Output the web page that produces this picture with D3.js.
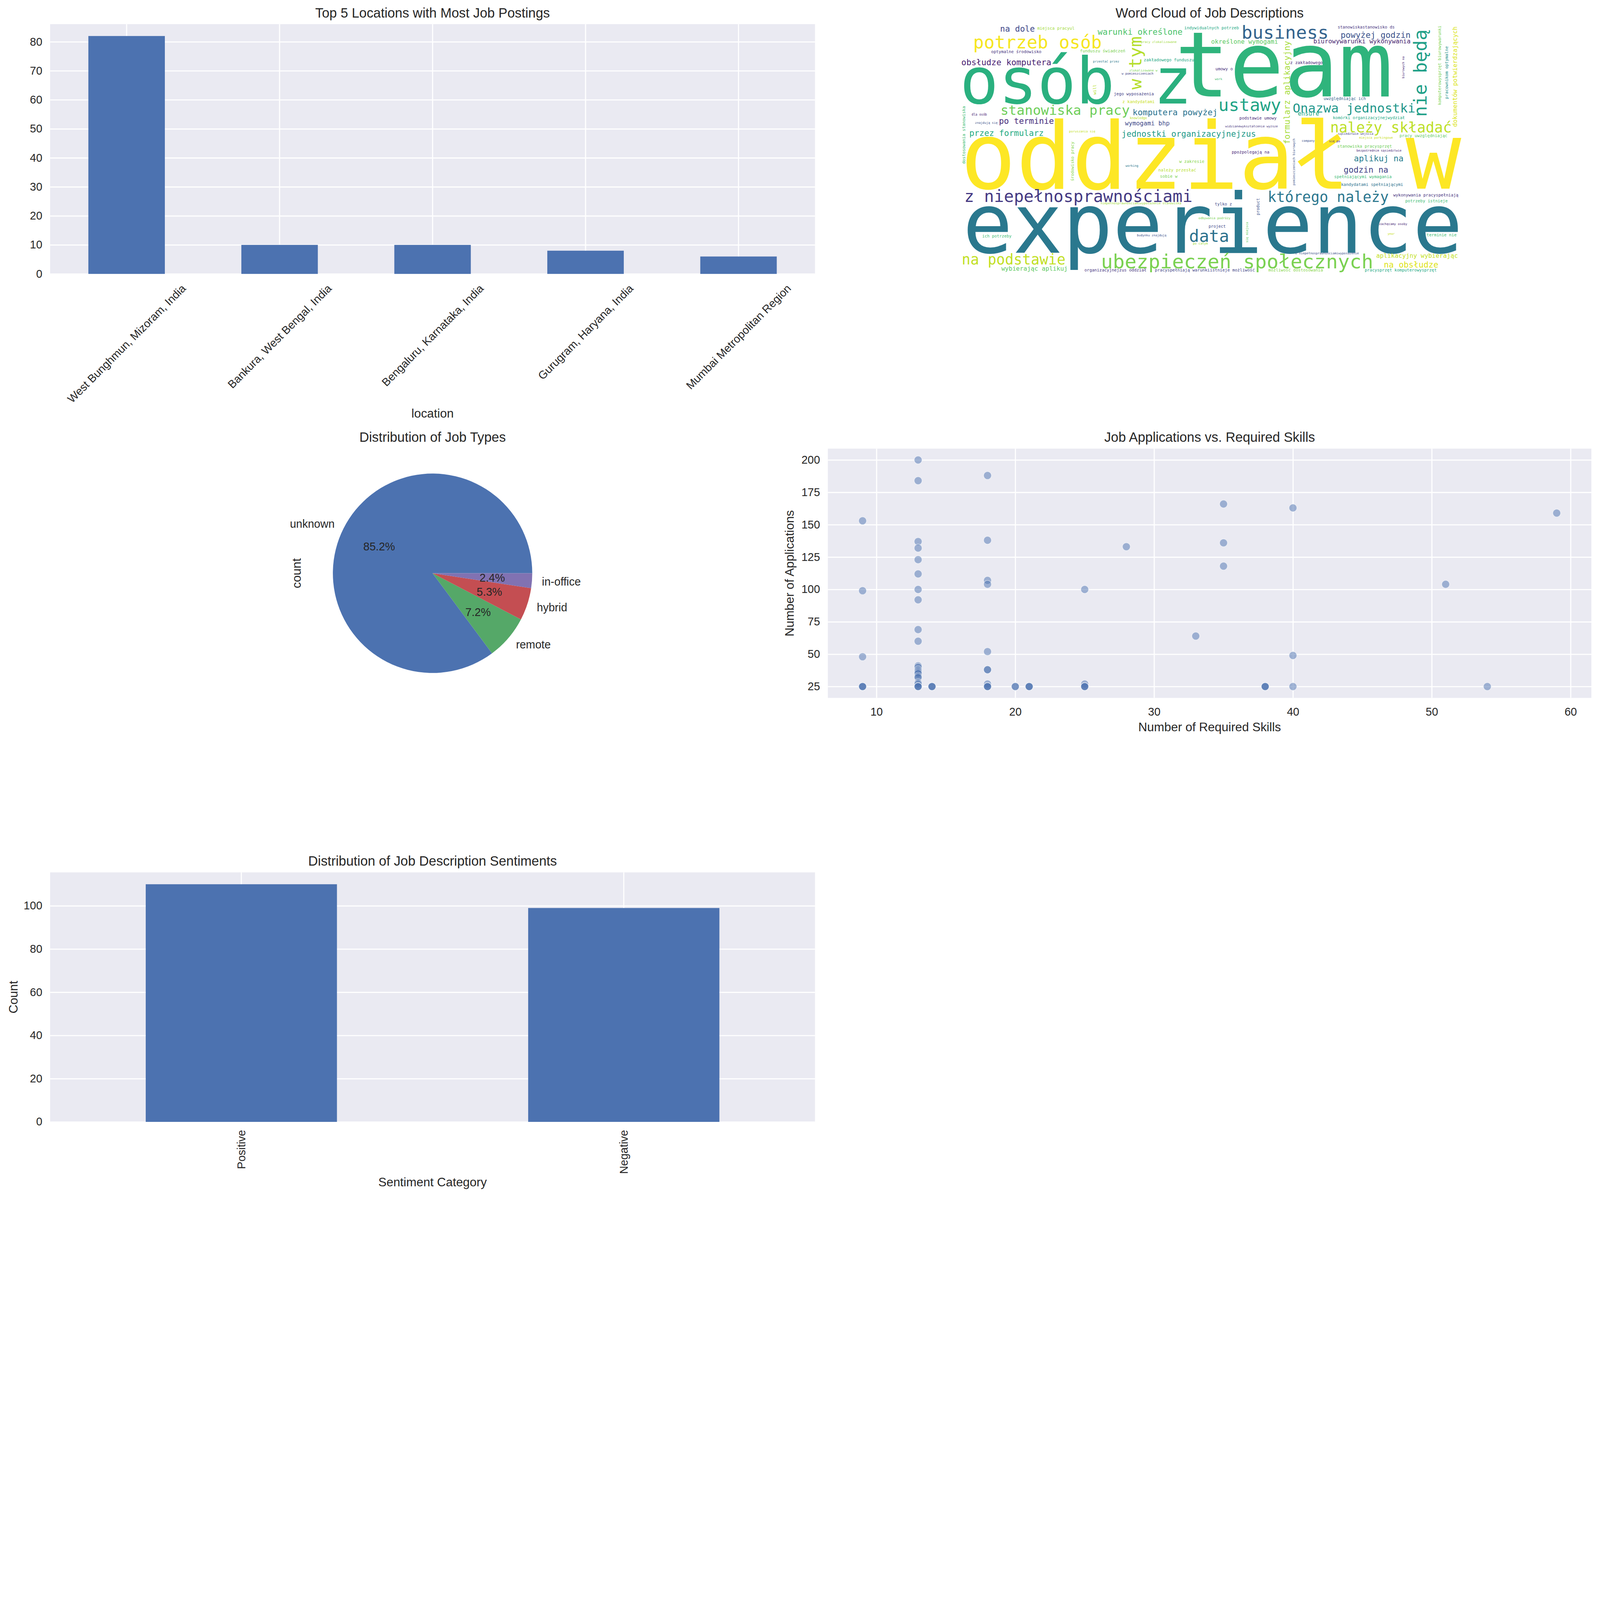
<!DOCTYPE html>
<html><head><meta charset="utf-8">
<script src="https://cdn.jsdelivr.net/npm/d3@7"></script>
<style>html,body{margin:0;padding:0;background:#fff;overflow:hidden}#c{display:block;width:100vw;height:auto}</style>
</head><body><svg id="c" viewBox="0 0 5970 4471" preserveAspectRatio="xMidYMid meet"></svg>
<script>
// ---------------- DATA ----------------
const locations = ["West Bunghmun, Mizoram, India","Bankura, West Bengal, India","Bengaluru, Karnataka, India","Gurugram, Haryana, India","Mumbai Metropolitan Region"];
const locationCounts = [82,10,10,8,6];
const locationTicks = [0,10,20,30,40,50,60,70,80];

const jobTypes = ["unknown","remote","hybrid","in-office"];
const jobTypeCounts = [178,15,11,5];
const jobTypeColors = ["#4C72B0","#55A868","#C44E52","#8172B2"];

const requiredSkills = [13,13,18,35,40,59,9,13,18,13,28,35,13,35,13,18,18,51,9,13,25,13,13,13,33,18,9,40,
  13,13,13,13,13,13,13,13,13,13,13,13,13,
  9,9,9,14,14,14,18,18,18,18,18,18,20,20,21,21,21,25,25,25,25,38,38,38,40,54];
const applications = [200,184,188,166,163,159,153,137,138,132,133,136,123,118,112,107,104,104,99,100,100,92,69,60,64,52,48,49,
  41,40,38,37,36,35,33,32,28,27,25,25,25,
  25,25,25,25,25,25,38,38,27,25,25,25,25,25,25,25,25,27,25,25,25,25,25,25,25,25];
const skillTicks = [10,20,30,40,50,60];
const applicationTicks = [25,50,75,100,125,150,175,200];

const sentiments = ["Positive","Negative"];
const sentimentCounts = [110,99];
const sentimentTicks = [0,20,40,60,80,100];

// word cloud: [word, font size in cloud px]
const cloudWords = [
 ["oddział w",148],["experience",133],["team",145],["osób z",103],["potrzeb osób",28.5],["business",29],
 ["ubezpieczeń społecznych",31.5],["należy składać",23.1],["którego należy",23],["z niepełnosprawnościami",26.4],
 ["na podstawie",23],["stanowiska pracy",21.5],["Onazwa jednostki",20.4],["ustawy",27.8],["data",26.7],
 ["nie będą",29.1],["w tym",28.3],["formularz aplikacyjny",13.1],["warunki określone",13.3],["obsłudze komputera",13.3],
 ["na dole",13.2],["po terminie",13.3],["przez formularz",13.2],["komputera powyżej",13.3],["jednostki organizacyjnejzus",13.25],
 ["wymogami bhp",9.9],["powyżej godzin",13.3],["biurowywarunki wykonywania",9.95],["określone wymogami",9.9],["aplikuj na",13.2],
 ["godzin na",13.2],["na obsłudze",13.2],["aplikacyjny wybierając",9.9],["dokumentów potwierdzających",9.9],["wybierając aplikuj",9.8],
 ["ensure",9.5],["miejsca pracyul",6.6],["optymalne środowisko",6.7],["dostosowania stanowiska",6.7],["dla osób",5.1],
 ["znajdują się",5.0],["indywidualnych potrzeb",6.6],["pracy zlokalizowane",5.0],["funduszu świadczeń",6.7],["przesłać przez",5.0],
 ["zakładowego funduszu",6.7],["zlokalizowane w",5.0],["w pomieszczeniach",5.0],["will",6.8],["jego wyposażenia",6.65],
 ["z kandydatami",6.6],["knowledge",5.07],["poruszania się",5.0],["środowisko pracy",6.56],["working",4.9],
 ["w zakresie",6.7],["należy przesłać",6.7],["sobie w",6.65],["niepełnosprawnościamiwyposażenie stanowiska",5.0],["odbywania podróży",5.0],
 ["project",6.5],["budynku znajdują",4.9],["po całym",5.0],["tylko z",6.5],["organizacyjnejzus oddział",6.6],
 ["pracyspełniają warunkiistnieje możliwość",6.66],["ich potrzeby",6.5],["stanowiskastanowisko ds",6.6],["z zakładowego",6.7],["umowy o",6.6],
 ["work",4.9],["biurowych na",4.9],["komputerowysprzęt biurowywarunki",6.6],["pracownikom optymalne",6.7],["uwzględniając ich",6.6],
 ["podstawie umowy",6.6],["komórki organizacyjnejwydział",6.6],["widzianewykształcenie wyższe",5.0],["sąsiedztwie wejścia",4.95],["miejsca parkingowe",5.0],
 ["pracy uwzględniając",6.7],["company",4.9],["się po",4.9],["stanowiska pracysprzęt",6.6],["bezpośrednim sąsiedztwie",5.0],
 ["ppożpolegają na",6.7],["pomieszczeniach biurowych",5.0],["spełniającymi wymagania",6.65],["kandydatami spełniającymi",6.6],["wykonywania pracyspełniają",6.67],
 ["potrzeby istnieje",6.65],["product",6.5],["się miejsca",5.0],["zachęcamy osoby",5.0],["year",4.7],
 ["terminie nie",6.65],["z niepełnosprawnościamiwyposażenie",4.98],["możliwość dostosowania",6.6],["pracysprzęt komputerowysprzęt",6.6]
];
// word cloud placement (800x400 image px): [x, baseline y, vertical, colour]
const cloudLayout = [
 [1,263.6,0,"#fde725"],[4.6,366.3,0,"#2a788e"],[344.4,115.8,0,"#2fb47c"],[0,127.3,0,"#2ab07f"],[21.3,39.1,0,"#f6e620"],[451,23.5,0,"#33638d"],
 [226,391,0,"#7ad151"],[593,173.3,0,"#bddf26"],[493,285,0,"#2a768e"],[7,285,0,"#443983"],
 [3,384.7,0,"#c2df23"],[65,145.4,0,"#6ece58"],[533,141.8,0,"#1f978b"],[414,139.1,0,"#20a486"],[367,348.5,0,"#2c728e"],
 [747.4,148.6,1,"#1fa088"],[291,104.8,1,"#b5de2b"],[528.4,192.4,1,"#a5db36"],[220.6,17.2,0,"#4ec36b"],[2.4,66,0,"#482173"],
 [64.5,12.3,0,"#3e4989"],[62.6,159.6,0,"#472d7b"],[15.2,178.8,0,"#25ab82"],[276.7,145.9,0,"#2c728e"],[258.9,180.1,0,"#1f9a8a"],
 [264.4,162.3,0,"#3e4989"],[609.7,22.1,0,"#3b528b"],[566.1,30.9,0,"#481f70"],[402.4,31.7,0,"#5ec962"],[631,219.8,0,"#287c8e"],
 [614.6,237.6,0,"#414487"],[678.9,389.6,0,"#dde318"],[666.6,374.5,0,"#c2df23"],[796.1,164.5,1,"#dae319"],[66.4,395,0,"#5ec962"],
 [541.2,146.7,0,"#22a884"],[124,9,0,"#a0da39"],[50,46.2,0,"#46337e"],[8.4,224,1,"#3dbc74"],[18.8,146.4,0,"#482475"],
 [24.3,159.6,0,"#3b528b"],[359.4,8.5,0,"#22a884"],[289.9,30.1,0,"#a0da39"],[192.4,45.1,0,"#7ad151"],[213.2,61.6,0,"#2a788e"],
 [294.5,59.7,0,"#22a884"],[271.3,76.1,0,"#7ad151"],[258.9,81,0,"#414487"],[217.9,113.1,1,"#b5de2b"],[246.6,113.9,0,"#433e85"],
 [260.3,126.7,0,"#c8e020"],[272.1,152.2,0,"#b5de2b"],[174.9,173.3,0,"#c2df23"],[182.3,251.3,1,"#86d549"],[265.2,228.6,0,"#2a788e"],
 [351.2,222,0,"#86d549"],[317.8,236.3,0,"#b5de2b"],[320.5,245.8,0,"#7ad151"],[225.3,288.8,0,"#a0da39"],[382.1,312.1,0,"#7ad151"],
 [398.3,326.1,0,"#3e4989"],[283.6,339.8,0,"#3b528b"],[373.1,353.2,0,"#a0da39"],[408.4,290.5,0,"#3e4989"],[199.5,396,0,"#46337e"],
 [312.3,396,0,"#414487"],[35.8,341.7,0,"#3fbc73"],[605,6.8,0,"#46337e"],[528.9,63.8,0,"#482878"],[409.3,74.2,0,"#472d7b"],
 [408.4,89.8,0,"#3fbc73"],[711.8,87,1,"#482878"],[770.7,129.5,1,"#7ad151"],[781.6,119.9,1,"#21918c"],[582.6,121.8,0,"#355f8d"],
 [447.6,153,0,"#482878"],[597.4,151.9,0,"#22a884"],[424.9,165.1,0,"#46337e"],[605.6,177.4,0,"#414487"],[639.3,183.7,0,"#c8e020"],
 [704.1,180.7,0,"#5ec962"],[547.5,188.3,0,"#3b528b"],[591.3,189.2,0,"#482878"],[604.5,197.9,0,"#6ece58"],[635.1,204,0,"#482878"],
 [435.3,207,0,"#482878"],[536.6,258.2,1,"#3b528b"],[599.5,246.4,0,"#3bbb75"],[610.5,259,0,"#2c728e"],[694,276,0,"#46337e"],
 [713.2,285.5,0,"#3dbc74"],[479.6,306.1,1,"#3b528b"],[461.3,349.9,1,"#5ec962"],[671.3,321.7,0,"#482878"],[685,337.6,0,"#c8e020"],
 [747.4,339.7,0,"#3fbc73"],[537.1,368.5,0,"#3b528b"],[494.1,396.4,0,"#86d549"],[648.3,396.4,0,"#22a884"]
];

// ---------------- STYLE / LAYOUT ----------------
const PT = 300/72;
const TICK = 10*PT, LABEL = 11*PT, TITLE = 12*PT;
const TXT = "#262626", BG = "#EAEAF2", BAR = "#4C72B0";
const FONT = "'Liberation Sans', Arial, sans-serif";
const PAD = 7*PT, GRIDW = 1*PT;
const colL = [187, 3041], colR = [3089, 5938];
const rows = [[90,1022],[1674,2604],[3255,4186]];

const svg = d3.select("#c");
svg.append("rect").attr("width",5970).attr("height",4471).attr("fill","#fff");

function txt(g, s, size){
  return g.append("text").text(s).attr("font-family",FONT).attr("font-size",size).attr("fill",TXT);
}
function title(s, cols, row){
  txt(svg, s, TITLE).attr("x",(cols[0]+cols[1])/2).attr("y",row[0]-6*PT).attr("text-anchor","middle");
}
function ylabel(s, cx, cy){
  txt(svg, s, LABEL).attr("text-anchor","middle").attr("dy","0.35em")
    .attr("transform",`translate(${cx},${cy}) rotate(-90)`);
}
function styleAxis(a){
  a.select(".domain").remove();
  a.selectAll(".tick line").attr("stroke","#fff").attr("stroke-width",GRIDW);
  a.selectAll(".tick text").attr("font-family",FONT).attr("font-size",TICK).attr("fill",TXT);
}

function barChart(cats, vals, ticks, cols, row, rot, ttl, xlab, ylab){
  const [x0,x1]=cols, [y0,y1]=row;
  const g = svg.append("g");
  g.append("rect").attr("x",x0).attr("y",y0).attr("width",x1-x0).attr("height",y1-y0).attr("fill",BG);
  const x = d3.scaleBand().domain(cats).range([x0,x1]).paddingInner(0.5).paddingOuter(0.25);
  const y = d3.scaleLinear().domain([0, d3.max(vals)*1.05]).range([y1,y0]);
  const ya = g.append("g").attr("transform",`translate(${x0},0)`)
    .call(d3.axisLeft(y).tickValues(ticks).tickSize(-(x1-x0)).tickPadding(PAD).tickFormat(d3.format("d")));
  styleAxis(ya);
  const xa = g.append("g").attr("transform",`translate(0,${y1})`)
    .call(d3.axisBottom(x).tickSize(-(y1-y0)).tickFormat(""));
  styleAxis(xa);
  g.selectAll(".bar").data(cats).join("rect").attr("class","bar")
    .attr("x",d=>x(d)).attr("width",x.bandwidth())
    .attr("y",(d,i)=>y(vals[i])).attr("height",(d,i)=>y(0)-y(vals[i])).attr("fill",BAR);
  const top = y1 + 30;
  let bottom = top;
  const rad = rot*Math.PI/180, h = TICK*1.117;
  cats.forEach(c=>{
    const t = txt(g, c, TICK).attr("text-anchor","middle").attr("dy","0.35em");
    const w = t.node().getComputedTextLength();
    const bh = w*Math.sin(rad) + h*Math.cos(rad);
    t.attr("transform",`translate(${x(c)+x.bandwidth()/2},${top+bh/2}) rotate(${-rot})`);
    bottom = Math.max(bottom, top+bh);
  });
  txt(svg, xlab, LABEL).attr("x",(x0+x1)/2).attr("y",bottom+46).attr("text-anchor","middle");
  title(ttl, cols, row);
  if (ylab) ylabel(ylab, 49, (y0+y1)/2);
}

// ---- 1. Top locations ----
barChart(locations, locationCounts, locationTicks, colL, rows[0], 45,
  "Top 5 Locations with Most Job Postings", "location", null);

// ---- 2. Word cloud ----
(function(){
  const [x0,x1]=colR, [y0,y1]=rows[0];
  const k = Math.min((x1-x0)/800, (y1-y0)/400);
  const iw = 800*k, ih = 400*k;
  const ix0 = x0 + ((x1-x0)-iw)/2, iy0 = y0 + ((y1-y0)-ih)/2;
  const cx = d3.scaleLinear().domain([0,800]).range([ix0, ix0+iw]);
  const cy = d3.scaleLinear().domain([0,400]).range([iy0, iy0+ih]);
  const g = svg.append("g");
  cloudWords.forEach((w,i)=>{
    const [lx,ly,vert,col] = cloudLayout[i];
    g.append("text").text(w[0])
      .attr("font-family","'DejaVu Sans Mono', monospace")
      .attr("font-size", w[1]*k).attr("fill",col)
      .attr("transform",`translate(${cx(lx)},${cy(ly)})` + (vert ? " rotate(-90)" : ""));
  });
  title("Word Cloud of Job Descriptions", colR, rows[0]);
})();

// ---- 3. Pie ----
(function(){
  const [x0,x1]=colL, [y0,y1]=rows[1];
  const cxp = (x0+x1)/2, cyp = (y0+y1)/2;
  const R = (y1-y0)/2/1.25;
  const pie = d3.pie().sort(null).value(d=>d).startAngle(Math.PI/2).endAngle(Math.PI/2 - 2*Math.PI);
  const arcs = pie(jobTypeCounts);
  const arc = d3.arc().innerRadius(0).outerRadius(R);
  const total = d3.sum(jobTypeCounts);
  const g = svg.append("g").attr("transform",`translate(${cxp},${cyp})`);
  g.selectAll("path").data(arcs).join("path").attr("d",arc).attr("fill",(d,i)=>jobTypeColors[i]);
  arcs.forEach((a,i)=>{
    const m = (a.startAngle+a.endAngle)/2;
    const lx = 1.1*R*Math.sin(m), ly = -1.1*R*Math.cos(m);
    txt(g, jobTypes[i], TICK).attr("x",lx).attr("y",ly).attr("dy","0.35em")
      .attr("text-anchor", lx>0 ? "start" : "end");
    const px = 0.6*R*Math.sin(m), py = -0.6*R*Math.cos(m);
    txt(g, (jobTypeCounts[i]/total*100).toFixed(1)+"%", TICK).attr("x",px).attr("y",py).attr("dy","0.35em")
      .attr("text-anchor","middle");
  });
  title("Distribution of Job Types", colL, rows[1]);
  ylabel("count", cxp - (y1-y0)/2 - 43, cyp);
})();

// ---- 4. Scatter ----
(function(){
  const [x0,x1]=colR, [y0,y1]=rows[1];
  const g = svg.append("g");
  g.append("rect").attr("x",x0).attr("y",y0).attr("width",x1-x0).attr("height",y1-y0).attr("fill",BG);
  const [xmin,xmax] = d3.extent(requiredSkills), [ymin,ymax] = d3.extent(applications);
  const mx = (xmax-xmin)*0.05, my = (ymax-ymin)*0.05;
  const x = d3.scaleLinear().domain([xmin-mx, xmax+mx]).range([x0,x1]);
  const y = d3.scaleLinear().domain([ymin-my, ymax+my]).range([y1,y0]);
  const ya = g.append("g").attr("transform",`translate(${x0},0)`)
    .call(d3.axisLeft(y).tickValues(applicationTicks).tickSize(-(x1-x0)).tickPadding(PAD));
  styleAxis(ya);
  const xa = g.append("g").attr("transform",`translate(0,${y1})`)
    .call(d3.axisBottom(x).tickValues(skillTicks).tickSize(-(y1-y0)).tickPadding(PAD));
  styleAxis(xa);
  xa.selectAll(".tick text").attr("dy","0.9em");
  g.selectAll("circle").data(requiredSkills).join("circle")
    .attr("cx",d=>x(d)).attr("cy",(d,i)=>y(applications[i])).attr("r",3.5*PT)
    .attr("fill",BAR).attr("fill-opacity",0.5)
    .attr("stroke","#fff").attr("stroke-opacity",0.5).attr("stroke-width",0.56*PT);
  txt(svg, "Number of Required Skills", LABEL).attr("x",(x0+x1)/2).attr("y",y1+124).attr("text-anchor","middle");
  ylabel("Number of Applications", 2945, (y0+y1)/2);
  title("Job Applications vs. Required Skills", colR, rows[1]);
})();

// ---- 5. Sentiment ----
barChart(sentiments, sentimentCounts, sentimentTicks, colL, rows[2], 90,
  "Distribution of Job Description Sentiments", "Sentiment Category", "Count");
</script>
</body></html>
